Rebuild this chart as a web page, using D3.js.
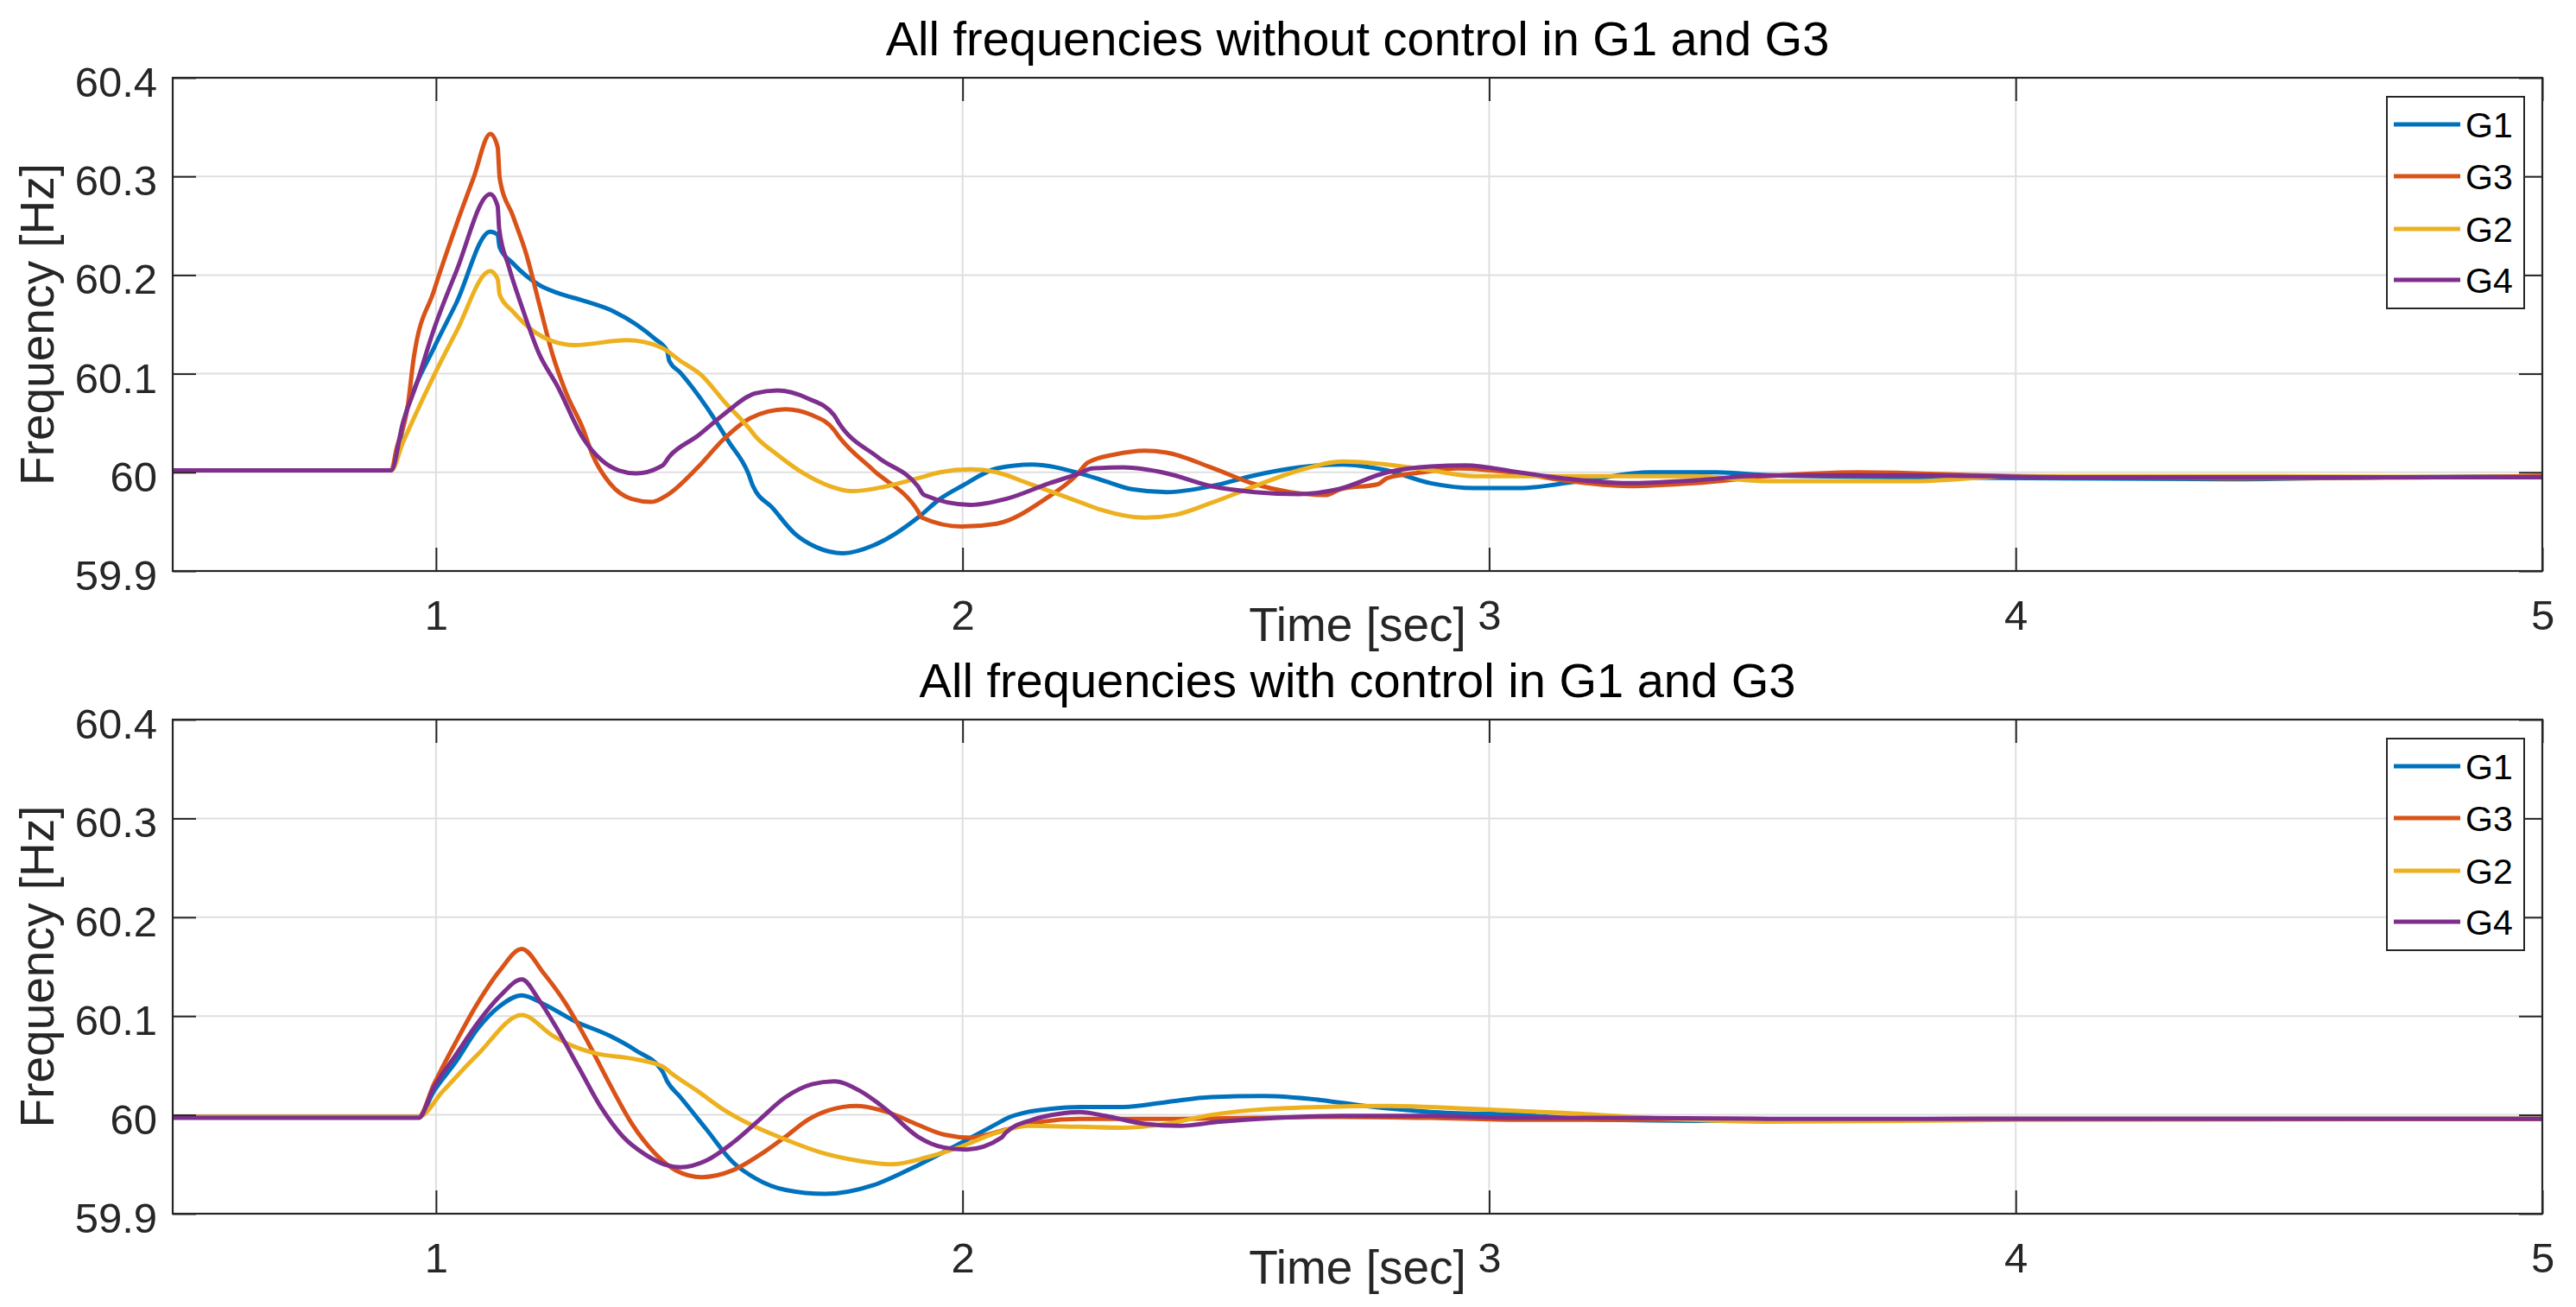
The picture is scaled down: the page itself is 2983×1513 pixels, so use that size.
<!DOCTYPE html>
<html>
<head>
<meta charset="utf-8">
<script src="https://cdn.jsdelivr.net/npm/d3@7/dist/d3.min.js"></script>
<style>
  html, body { margin: 0; padding: 0; background: #fff; }
  svg { display: block; font-family: "Liberation Sans", Arial, Helvetica, sans-serif; }
</style>
</head>
<body>
<script>
// ---------------- DATA ----------------
const seriesNames = ["G1", "G3", "G2", "G4"];
const seriesColors = ["#0072BD", "#D95319", "#EDB120", "#7E2F8E"];
const xTicks = [1, 2, 3, 4, 5];
const yTicks = [59.9, 60, 60.1, 60.2, 60.3, 60.4];
const xDomain = [0.5, 5];
const yDomain = [59.9, 60.4];
const titles = ["All frequencies without control in G1 and G3", "All frequencies with control in G1 and G3"];
const xLabel = "Time [sec]";
const yLabel = "Frequency [Hz]";

// Panel 1: without control  [time, frequency]
const noCtrlG1 = [[0.5,60.002],[0.915,60.002],[0.946,60.066],[0.996,60.126],[1.038,60.171],[1.103,60.244],[1.117,60.241],[1.121,60.228],[1.146,60.212],[1.196,60.190],[1.230,60.182],[1.280,60.174],[1.338,60.163],[1.380,60.150],[1.414,60.136],[1.439,60.123],[1.443,60.113],[1.464,60.101],[1.514,60.066],[1.556,60.031],[1.593,59.999],[1.602,59.986],[1.639,59.964],[1.681,59.938],[1.723,59.924],[1.773,59.918],[1.831,59.926],[1.873,59.938],[1.915,59.954],[1.957,59.973],[1.998,59.986],[2.065,60.004],[2.132,60.008],[2.222,59.999],[2.271,59.991],[2.321,59.983],[2.388,59.980],[2.472,59.986],[2.555,59.997],[2.639,60.005],[2.722,60.008],[2.806,60.002],[2.889,59.989],[2.973,59.984],[3.056,59.984],[3.182,59.992],[3.307,60.000],[3.432,60.000],[3.531,59.997],[3.8,59.995],[4.1,59.994],[4.4,59.993],[4.7,59.995],[5,59.996]];
const noCtrlG3 = [[0.5,60.002],[0.915,60.002],[0.925,60.024],[0.946,60.066],[0.958,60.117],[0.996,60.184],[1.038,60.250],[1.071,60.298],[1.103,60.343],[1.117,60.330],[1.121,60.298],[1.146,60.260],[1.171,60.222],[1.196,60.171],[1.221,60.120],[1.246,60.082],[1.280,60.043],[1.297,60.018],[1.330,59.989],[1.372,59.973],[1.409,59.970],[1.439,59.977],[1.497,60.005],[1.547,60.034],[1.597,60.055],[1.664,60.064],[1.714,60.058],[1.756,60.043],[1.764,60.037],[1.831,60.002],[1.915,59.961],[1.923,59.954],[1.998,59.945],[2.065,59.948],[2.157,59.973],[2.216,59.997],[2.238,60.010],[2.288,60.018],[2.346,60.022],[2.388,60.020],[2.472,60.005],[2.555,59.988],[2.622,59.980],[2.689,59.977],[2.718,59.983],[2.789,59.988],[2.806,59.994],[2.873,60.000],[2.940,60.004],[3.056,59.999],[3.140,59.992],[3.265,59.986],[3.391,59.989],[3.531,59.996],[3.7,60.000],[4.0,59.996],[4.4,59.994],[4.8,59.995],[5,59.996]];
const noCtrlG2 = [[0.5,60.002],[0.915,60.002],[0.937,60.030],[0.958,60.055],[0.996,60.098],[1.038,60.142],[1.103,60.204],[1.117,60.196],[1.121,60.180],[1.146,60.163],[1.188,60.142],[1.221,60.133],[1.263,60.129],[1.363,60.134],[1.430,60.126],[1.464,60.113],[1.505,60.098],[1.547,60.072],[1.597,60.043],[1.606,60.037],[1.648,60.018],[1.698,59.999],[1.748,59.986],[1.790,59.981],[1.848,59.985],[1.915,59.994],[1.957,60.000],[2.015,60.003],[2.065,60.000],[2.124,59.989],[2.222,59.970],[2.263,59.962],[2.346,59.954],[2.405,59.957],[2.472,59.969],[2.555,59.986],[2.639,60.002],[2.722,60.011],[2.806,60.008],[2.889,60.002],[2.973,59.996],[3.056,59.996],[3.223,59.996],[3.391,59.996],[3.531,59.991],[3.8,59.991],[4.0,59.996],[4.5,59.996],[5,59.995]];
const noCtrlG4 = [[0.5,60.002],[0.915,60.002],[0.937,60.050],[0.962,60.088],[0.996,60.145],[1.038,60.203],[1.103,60.282],[1.117,60.270],[1.120,60.247],[1.138,60.209],[1.163,60.168],[1.196,60.120],[1.230,60.088],[1.280,60.034],[1.313,60.013],[1.347,60.002],[1.380,59.999],[1.430,60.007],[1.443,60.016],[1.497,60.037],[1.547,60.059],[1.606,60.080],[1.648,60.083],[1.706,60.075],[1.756,60.058],[1.764,60.051],[1.840,60.015],[1.915,59.986],[1.927,59.977],[2.015,59.967],[2.082,59.973],[2.165,59.989],[2.222,59.999],[2.246,60.004],[2.305,60.005],[2.388,59.999],[2.472,59.986],[2.555,59.980],[2.639,59.978],[2.714,59.983],[2.806,60.000],[2.889,60.006],[2.956,60.007],[3.056,60.000],[3.140,59.994],[3.265,59.989],[3.391,59.992],[3.531,59.997],[3.8,59.997],[4.1,59.995],[4.5,59.995],[5,59.995]];

// Panel 2: with control  [time, frequency]
const ctrlG1 = [[0.5,59.998],[0.967,59.998],[0.996,60.024],[1.038,60.054],[1.079,60.087],[1.121,60.110],[1.163,60.121],[1.205,60.112],[1.263,60.095],[1.330,60.080],[1.380,60.065],[1.430,60.044],[1.439,60.034],[1.464,60.018],[1.514,59.985],[1.564,59.952],[1.606,59.936],[1.664,59.924],[1.739,59.920],[1.831,59.929],[1.915,59.949],[1.998,59.972],[2.065,59.991],[2.082,59.996],[2.124,60.003],[2.165,60.006],[2.222,60.008],[2.305,60.008],[2.388,60.013],[2.472,60.018],[2.572,60.019],[2.680,60.015],[2.764,60.009],[2.889,60.003],[3.056,60.000],[3.223,59.995],[3.391,59.994],[3.531,59.995],[4.0,59.996],[5,59.996]];
const ctrlG3 = [[0.5,59.998],[0.967,59.998],[0.996,60.031],[1.038,60.074],[1.079,60.113],[1.121,60.146],[1.163,60.168],[1.205,60.143],[1.246,60.113],[1.288,60.074],[1.330,60.031],[1.372,59.991],[1.414,59.962],[1.455,59.944],[1.505,59.937],[1.564,59.944],[1.622,59.962],[1.664,59.978],[1.706,59.995],[1.748,60.005],[1.798,60.009],[1.856,60.003],[1.915,59.990],[1.965,59.980],[2.015,59.977],[2.082,59.985],[2.149,59.993],[2.222,59.996],[2.388,59.996],[2.555,59.997],[2.722,59.998],[2.889,59.997],[3.056,59.995],[3.223,59.995],[3.531,59.995],[4.0,59.996],[5,59.996]];
const ctrlG2 = [[0.5,59.998],[0.967,59.998],[1.013,60.024],[1.079,60.061],[1.163,60.101],[1.222,60.080],[1.263,60.069],[1.305,60.062],[1.372,60.057],[1.430,60.049],[1.447,60.042],[1.497,60.024],[1.547,60.005],[1.606,59.988],[1.664,59.975],[1.731,59.962],[1.798,59.954],[1.865,59.950],[1.932,59.957],[1.998,59.968],[2.065,59.982],[2.124,59.989],[2.222,59.988],[2.305,59.987],[2.388,59.991],[2.472,60.000],[2.555,60.005],[2.680,60.008],[2.806,60.009],[2.973,60.006],[3.140,60.002],[3.307,59.997],[3.531,59.993],[4.0,59.995],[5,59.996]];
const ctrlG4 = [[0.5,59.997],[0.967,59.997],[0.996,60.028],[1.038,60.061],[1.079,60.093],[1.121,60.120],[1.163,60.137],[1.196,60.116],[1.230,60.087],[1.272,60.047],[1.313,60.008],[1.355,59.978],[1.397,59.960],[1.439,59.949],[1.464,59.947],[1.514,59.954],[1.564,59.972],[1.614,59.995],[1.664,60.018],[1.714,60.031],[1.756,60.034],[1.806,60.024],[1.856,60.005],[1.915,59.978],[1.965,59.967],[2.007,59.965],[2.074,59.977],[2.082,59.982],[2.132,59.995],[2.182,60.001],[2.222,60.003],[2.271,59.999],[2.346,59.991],[2.413,59.989],[2.488,59.993],[2.597,59.997],[2.722,59.999],[2.889,59.999],[3.056,59.997],[3.223,59.997],[3.531,59.996],[5,59.996]];

const panelsData = [
  [noCtrlG1, noCtrlG3, noCtrlG2, noCtrlG4],
  [ctrlG1, ctrlG3, ctrlG2, ctrlG4]
];

// ---------------- LAYOUT ----------------
const W = 2983, H = 1513;
const left = 200, right = 2944;
const panelBoxes = [{ top: 90, bottom: 661 }, { top: 833, bottom: 1405 }];
const axisColor = "#262626";
const gridColor = "#dfdfdf";
const fontFamily = '"Liberation Sans", Arial, Helvetica, sans-serif';

const svg = d3.select("body").append("svg")
  .attr("width", W).attr("height", H)
  .attr("viewBox", `0 0 ${W} ${H}`);

const x = d3.scaleLinear().domain(xDomain).range([left, right]);

panelsData.forEach((series, pi) => {
  const box = panelBoxes[pi];
  const y = d3.scaleLinear().domain(yDomain).range([box.bottom, box.top]);
  const g = svg.append("g");

  // grid
  const grid = g.append("g");
  grid.selectAll("line.gx").data(xTicks.filter(t => t > xDomain[0] && t < xDomain[1]))
    .enter().append("line")
    .attr("x1", d => x(d)).attr("x2", d => x(d))
    .attr("y1", box.top).attr("y2", box.bottom)
    .attr("stroke", gridColor).attr("stroke-width", 2);
  grid.selectAll("line.gy").data(yTicks.filter(t => t > yDomain[0] && t < yDomain[1]))
    .enter().append("line")
    .attr("x1", left).attr("x2", right)
    .attr("y1", d => y(d)).attr("y2", d => y(d))
    .attr("stroke", gridColor).attr("stroke-width", 2);

  // clip
  const clipId = "clip" + pi;
  svg.append("clipPath").attr("id", clipId).append("rect")
    .attr("x", left).attr("y", box.top).attr("width", right - left).attr("height", box.bottom - box.top);

  // lines
  const line = d3.line().x(d => x(d[0])).y(d => y(d[1])).curve(d3.curveMonotoneX);
  const lines = g.append("g").attr("clip-path", `url(#${clipId})`);
  series.forEach((data, si) => {
    lines.append("path").datum(data)
      .attr("d", line)
      .attr("fill", "none")
      .attr("stroke", seriesColors[si])
      .attr("stroke-width", 5)
      .attr("stroke-linejoin", "round");
  });

  // axes
  const tickLen = 27;
  const fmtY = d => d3.format("")(+d.toFixed(1));
  const axB = g.append("g").attr("transform", `translate(0,${box.bottom})`)
    .call(d3.axisBottom(x).tickValues(xTicks).tickSize(-tickLen).tickPadding(33).tickFormat(d3.format("d")));
  const axT = g.append("g").attr("transform", `translate(0,${box.top})`)
    .call(d3.axisTop(x).tickValues(xTicks).tickSize(-tickLen).tickFormat(""));
  const axL = g.append("g").attr("transform", `translate(${left},0)`)
    .call(d3.axisLeft(y).tickValues(yTicks).tickSize(-tickLen).tickPadding(18).tickFormat(fmtY));
  const axR = g.append("g").attr("transform", `translate(${right},0)`)
    .call(d3.axisRight(y).tickValues(yTicks).tickSize(-tickLen).tickFormat(""));
  [axB, axT, axL, axR].forEach(a => {
    a.select(".domain").remove();
    a.selectAll(".tick line").attr("stroke", axisColor).attr("stroke-width", 2);
    a.selectAll("text").attr("fill", axisColor).style("font-size", "49px").style("font-family", fontFamily);
  });
  axL.selectAll("text").attr("dy", "0.44em");

  // box
  g.append("rect")
    .attr("x", left).attr("y", box.top)
    .attr("width", right - left).attr("height", box.bottom - box.top)
    .attr("fill", "none").attr("stroke", axisColor).attr("stroke-width", 2.2);

  // title
  g.append("text")
    .attr("x", (left + right) / 2).attr("y", box.top - 26)
    .attr("text-anchor", "middle")
    .attr("fill", "#000")
    .style("font-size", "56px")
    .text(titles[pi]);

  // x label
  g.append("text")
    .attr("x", (left + right) / 2).attr("y", box.bottom + 81)
    .attr("text-anchor", "middle")
    .attr("fill", axisColor)
    .style("font-size", "55px")
    .text(xLabel);

  // y label
  g.append("text")
    .attr("transform", `translate(62,${(box.top + box.bottom) / 2}) rotate(-90)`)
    .attr("text-anchor", "middle")
    .attr("fill", axisColor)
    .style("font-size", "55px")
    .text(yLabel);

  // legend
  const lg = g.append("g");
  const lx0 = 2764, lx1 = 2923;
  lg.append("rect")
    .attr("x", lx0).attr("y", box.top + 22)
    .attr("width", lx1 - lx0).attr("height", 245)
    .attr("fill", "#fff").attr("stroke", axisColor).attr("stroke-width", 2);
  const entryY = [54, 114, 175, 234];
  seriesNames.forEach((name, si) => {
    const ey = box.top + entryY[si];
    lg.append("line")
      .attr("x1", 2772).attr("x2", 2849)
      .attr("y1", ey).attr("y2", ey)
      .attr("stroke", seriesColors[si]).attr("stroke-width", 5);
    lg.append("text")
      .attr("x", 2855).attr("y", ey + 15)
      .attr("fill", "#000")
      .style("font-size", "41px")
      .text(name);
  });
});
</script>
</body>
</html>
